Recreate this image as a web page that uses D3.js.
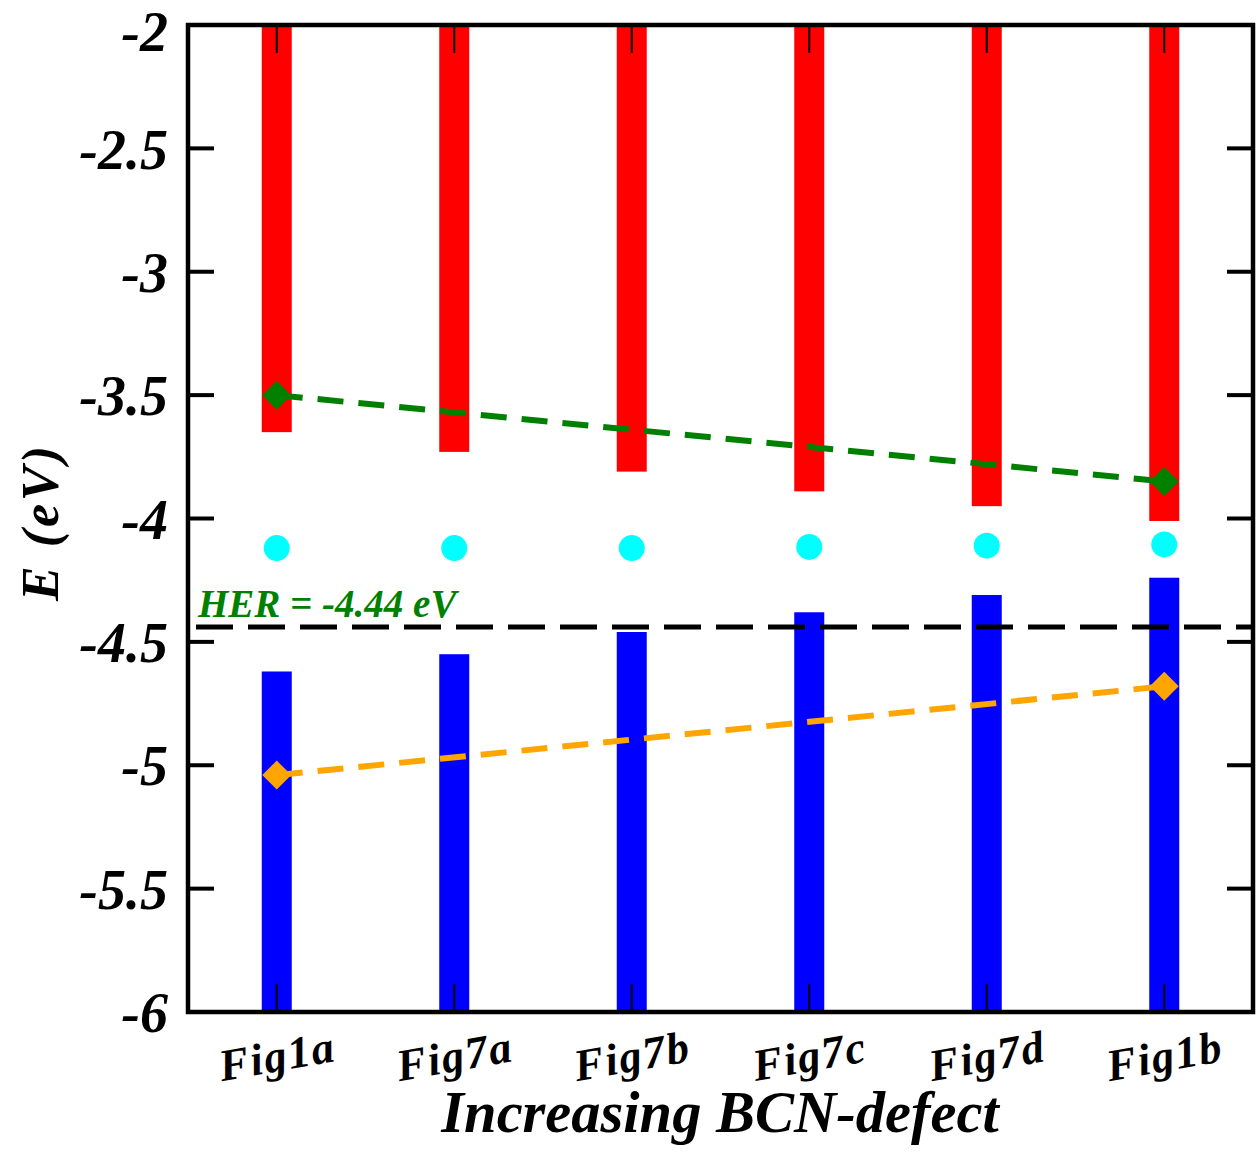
<!DOCTYPE html>
<html>
<head>
<meta charset="utf-8">
<script src="https://cdn.jsdelivr.net/npm/d3@7"></script>
<style>
  html, body { margin: 0; padding: 0; background: #fff; }
  svg { display: block; }
  text { font-family: "Liberation Serif", "Times New Roman", serif; font-weight: bold; font-style: italic; }
</style>
</head>
<body>
<script>
// Structures along the x axis
const categories = ["Fig1a", "Fig7a", "Fig7b", "Fig7c", "Fig7d", "Fig1b"];
// Conduction band minimum (lower end of the red bars), eV
const cbmValues = [-3.65, -3.73, -3.81, -3.89, -3.95, -4.01];
// Valence band maximum (upper end of the blue bars), eV
const vbmValues = [-4.62, -4.55, -4.46, -4.38, -4.31, -4.24];
// Mid-gap level (cyan dots), eV
const midValues = [-4.12, -4.12, -4.12, -4.115, -4.11, -4.105];
// Trend lines between the two end structures
const trendCats = ["Fig1a", "Fig1b"];
const upperTrend = [-3.50, -3.85];
const lowerTrend = [-5.04, -4.68];
// Hydrogen evolution reference level
const herLevel = -4.44;
const herLabel = "HER = -4.44 eV";
// Axis ticks
const yTicks = [-2, -2.5, -3, -3.5, -4, -4.5, -5, -5.5, -6];
const yTickLabels = ["-2", "-2.5", "-3", "-3.5", "-4", "-4.5", "-5", "-5.5", "-6"];
const xTitle = "Increasing BCN-defect";
const yTitle = "E (eV)";

const W = 1258, H = 1153;
const pL = 188, pR = 1253, pT = 25, pB = 1012;

const svg = d3.select("body").append("svg").attr("width", W).attr("height", H);

const x = d3.scalePoint().domain(categories).range([pL, pR]).padding(0.5);
const y = d3.scaleLinear().domain([-6, -2]).range([pB, pT]);

svg.append("defs").append("clipPath").attr("id", "plot")
  .append("rect").attr("x", pL).attr("y", pT).attr("width", pR - pL).attr("height", pB - pT);

const plot = svg.append("g").attr("clip-path", "url(#plot)");
const barW = 30;

// Conduction band bars (from the top of the window down to the CBM)
plot.selectAll("rect.cbm").data(categories).join("rect")
  .attr("class", "cbm")
  .attr("x", d => x(d) - barW / 2)
  .attr("width", barW)
  .attr("y", y(-2))
  .attr("height", (d, i) => y(cbmValues[i]) - y(-2))
  .attr("fill", "#ff0000");

// Valence band bars (from the VBM down to the bottom of the window)
plot.selectAll("rect.vbm").data(categories).join("rect")
  .attr("class", "vbm")
  .attr("x", d => x(d) - barW / 2)
  .attr("width", barW)
  .attr("y", (d, i) => y(vbmValues[i]))
  .attr("height", (d, i) => y(-6) - y(vbmValues[i]))
  .attr("fill", "#0000ff");

// Mid-gap dots
plot.selectAll("circle.mid").data(categories).join("circle")
  .attr("class", "mid")
  .attr("cx", d => x(d))
  .attr("cy", (d, i) => y(midValues[i]))
  .attr("r", 13)
  .attr("fill", "#00ffff");

// HER reference line
plot.append("line")
  .attr("x1", pL).attr("x2", pR)
  .attr("y1", y(herLevel)).attr("y2", y(herLevel))
  .attr("stroke", "#000").attr("stroke-width", 5)
  .attr("stroke-dasharray", "37 15")
  .attr("stroke-dashoffset", -8);

svg.append("text")
  .attr("x", 198).attr("y", y(herLevel) - 10)
  .attr("font-size", 39)
  .attr("fill", "#008000")
  .text(herLabel);

// Trend lines with diamond end markers
function trend(values, color) {
  const pts = trendCats.map((c, i) => [x(c), y(values[i])]);
  plot.append("path")
    .attr("d", d3.line()(pts))
    .attr("fill", "none")
    .attr("stroke", color)
    .attr("stroke-width", 6)
    .attr("stroke-dasharray", "26 15");
  plot.selectAll(null).data(pts).join("path")
    .attr("transform", d => `translate(${d[0]},${d[1]})`)
    .attr("d", "M0,-14.5L14.5,0L0,14.5L-14.5,0Z")
    .attr("fill", color);
}
trend(upperTrend, "#008000");
trend(lowerTrend, "#ffa500");

// Frame
svg.append("rect")
  .attr("x", pL).attr("y", pT)
  .attr("width", pR - pL).attr("height", pB - pT)
  .attr("fill", "none").attr("stroke", "#000").attr("stroke-width", 4.5);

// Y ticks on both sides, pointing inward
const innerY = yTicks.filter(v => v > -6 && v < -2);
svg.selectAll("line.ytl").data(innerY).join("line")
  .attr("x1", pL).attr("x2", pL + 26)
  .attr("y1", d => y(d)).attr("y2", d => y(d))
  .attr("stroke", "#000").attr("stroke-width", 4);
svg.selectAll("line.ytr").data(innerY).join("line")
  .attr("x1", pR).attr("x2", pR - 26)
  .attr("y1", d => y(d)).attr("y2", d => y(d))
  .attr("stroke", "#000").attr("stroke-width", 4);

// X ticks on top and bottom, pointing inward
svg.selectAll("line.xtb").data(categories).join("line")
  .attr("x1", d => x(d)).attr("x2", d => x(d))
  .attr("y1", pB).attr("y2", pB - 28)
  .attr("stroke", "#000").attr("stroke-width", 2);
svg.selectAll("line.xtt").data(categories).join("line")
  .attr("x1", d => x(d)).attr("x2", d => x(d))
  .attr("y1", pT).attr("y2", pT + 28)
  .attr("stroke", "#000").attr("stroke-width", 2);

// Y tick labels (the topmost one is nudged down to stay inside the page)
svg.selectAll("text.ylab").data(yTicks).join("text")
  .attr("x", 168)
  .attr("y", d => Math.max(y(d), 31))
  .attr("dy", "0.36em")
  .attr("text-anchor", "end")
  .attr("font-size", 56)
  .text((d, i) => yTickLabels[i]);

// X tick labels, slightly tilted
svg.selectAll("text.xlab").data(categories).join("text")
  .attr("transform", d => `translate(${x(d)},${1055}) rotate(-10)`)
  .attr("dy", "0.36em")
  .attr("text-anchor", "middle")
  .attr("font-size", 45)
  .attr("letter-spacing", 1.5)
  .text(d => d);

// Axis titles
svg.append("text")
  .attr("x", 720).attr("y", 1132)
  .attr("text-anchor", "middle")
  .attr("font-size", 58.5)
  .text(xTitle);

svg.append("text")
  .attr("transform", "translate(58,522) rotate(-90)")
  .attr("text-anchor", "middle")
  .attr("font-size", 52)
  .attr("letter-spacing", 3)
  .text(yTitle);
</script>
</body>
</html>
